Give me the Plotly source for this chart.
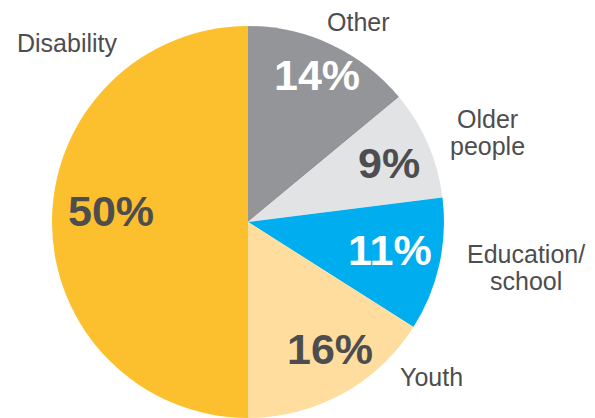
import plotly.graph_objects as go

labels = ["Other", "Older<br>people", "Education/<br>school", "Youth", "Disability"]
values = [14, 9, 11, 16, 50]
colors = ["#939598", "#e2e3e5", "#00aeef", "#fedd9e", "#fcc02e"]
pct_colors = ["#ffffff", "#4d4d4f", "#ffffff", "#4d4d4f", "#4d4d4f"]

W, H = 595, 418
cx, cy, r = 248, 222, 196

fig = go.Figure(go.Pie(
    labels=labels, values=values, sort=False, direction="clockwise", rotation=0,
    marker=dict(colors=colors, line=dict(width=0)),
    textinfo="none", hoverinfo="skip", showlegend=False,
    domain=dict(x=[(cx - r) / W, (cx + r) / W],
                y=[max(0, (H - cy - r) / H), min(1, (H - cy + r) / H)]),
))

# annotation positions (pixels) for percentages and labels
pct_pos = [(317, 75), (389, 163), (390, 250), (330, 349), (111, 211)]
lab_pos = [(358, 22), (487, 132), (526, 267), (431, 377), (67, 43)]

ann = []
for v, (px, py), c in zip(values, pct_pos, pct_colors):
    ann.append(dict(x=px / W, y=1 - py / H, xref="paper", yref="paper", text=f"<b>{v}%</b>",
                    showarrow=False, xanchor="center", yanchor="middle",
                    font=dict(family="Liberation Sans, Arial", size=43, color=c)))
for lab, (px, py) in zip(labels, lab_pos):
    lines = lab.split("<br>")
    n = len(lines)
    for i, line in enumerate(lines):
        off = (i - (n - 1) / 2) * 27
        ann.append(dict(x=px / W, y=1 - (py + off) / H, xref="paper", yref="paper", text=line,
                        showarrow=False, xanchor="center", yanchor="middle",
                        font=dict(family="Liberation Sans, Arial", size=25, color="#4d4d4f")))

fig.update_layout(width=W, height=H, margin=dict(l=0, r=0, t=0, b=0),
                  paper_bgcolor="white", plot_bgcolor="white", annotations=ann)
fig.write_html("out.html")
